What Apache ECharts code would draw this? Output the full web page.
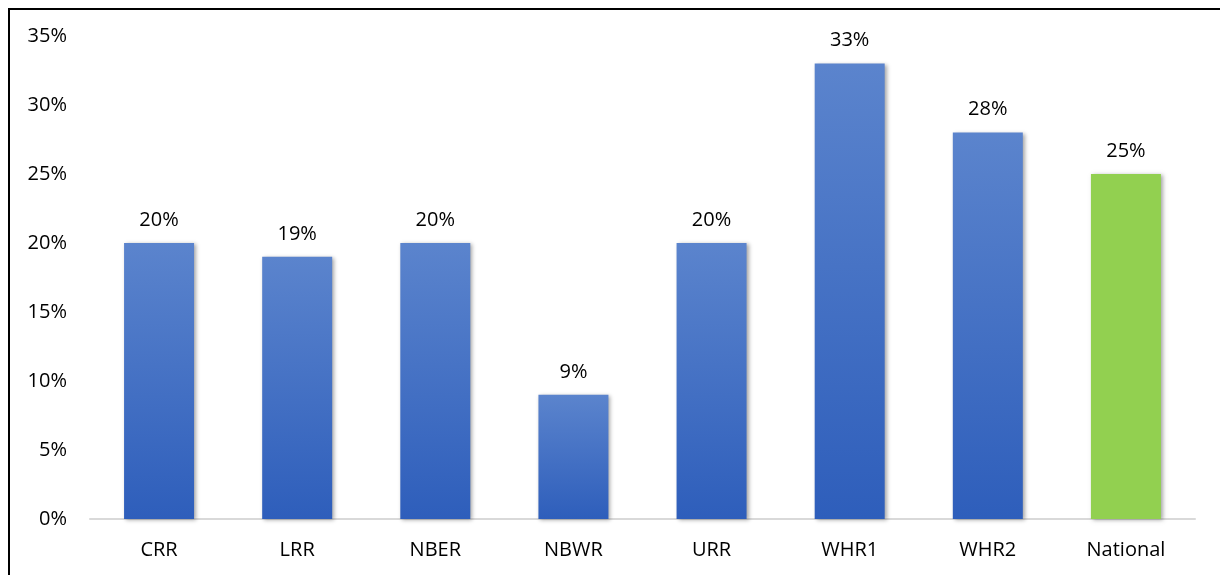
<!DOCTYPE html>
<html><head><meta charset="utf-8">
<script src="https://cdn.jsdelivr.net/npm/echarts@6/dist/echarts.min.js"></script>
<style>html,body{margin:0;padding:0;background:#fff}#c{width:1220px;height:575px}</style>
</head><body><div id="c"></div>
<script>
const categories = ['CRR','LRR','NBER','NBWR','URR','WHR1','WHR2','National'];
const values = [20,19,20,9,20,33,28,25];
const yTicks = [0,5,10,15,20,25,30,35];

const blueGrad = new echarts.graphic.LinearGradient(0,0,0,1,[{offset:0,color:'#5B84CD'},{offset:1,color:'#2E5EBB'}]);
const green = '#92D050';
const chart = echarts.init(document.getElementById('c'), null, {renderer:'canvas'});
const font = '"Open Sans", "Liberation Sans", sans-serif';
chart.setOption({
  animation:false,
  grid:{left:90,right:25,top:36,bottom:56,containLabel:false},
  xAxis:{type:'category',data:categories,
    axisLine:{lineStyle:{color:'#D9D9D9',width:2}},axisTick:{show:false},
    axisLabel:{color:'#000',fontSize:20,fontFamily:font,margin:21}},
  yAxis:{type:'value',min:yTicks[0],max:yTicks[yTicks.length-1],interval:5,
    axisLine:{show:false},axisTick:{show:false},splitLine:{show:false},
    axisLabel:{color:'#000',fontSize:20,fontFamily:font,margin:23,formatter:v=>v+'%'}},
  series:[{type:'bar',barWidth:70,
    data:values.map((v,i)=>({value:v,itemStyle:{color:categories[i]==='National'?green:blueGrad}})),
    itemStyle:{shadowColor:'rgba(0,0,0,0.35)',shadowBlur:4,shadowOffsetX:2,shadowOffsetY:1},
    label:{show:true,position:'top',distance:13,color:'#000',fontSize:20,fontFamily:font,formatter:p=>p.value+'%'}}],
  graphic:[
    {type:'line',shape:{x1:9,y1:9,x2:9,y2:575},style:{stroke:'#000',lineWidth:2}},
    {type:'line',shape:{x1:8,y1:9,x2:1220,y2:9},style:{stroke:'#000',lineWidth:2}}
  ]
});
</script></body></html>
